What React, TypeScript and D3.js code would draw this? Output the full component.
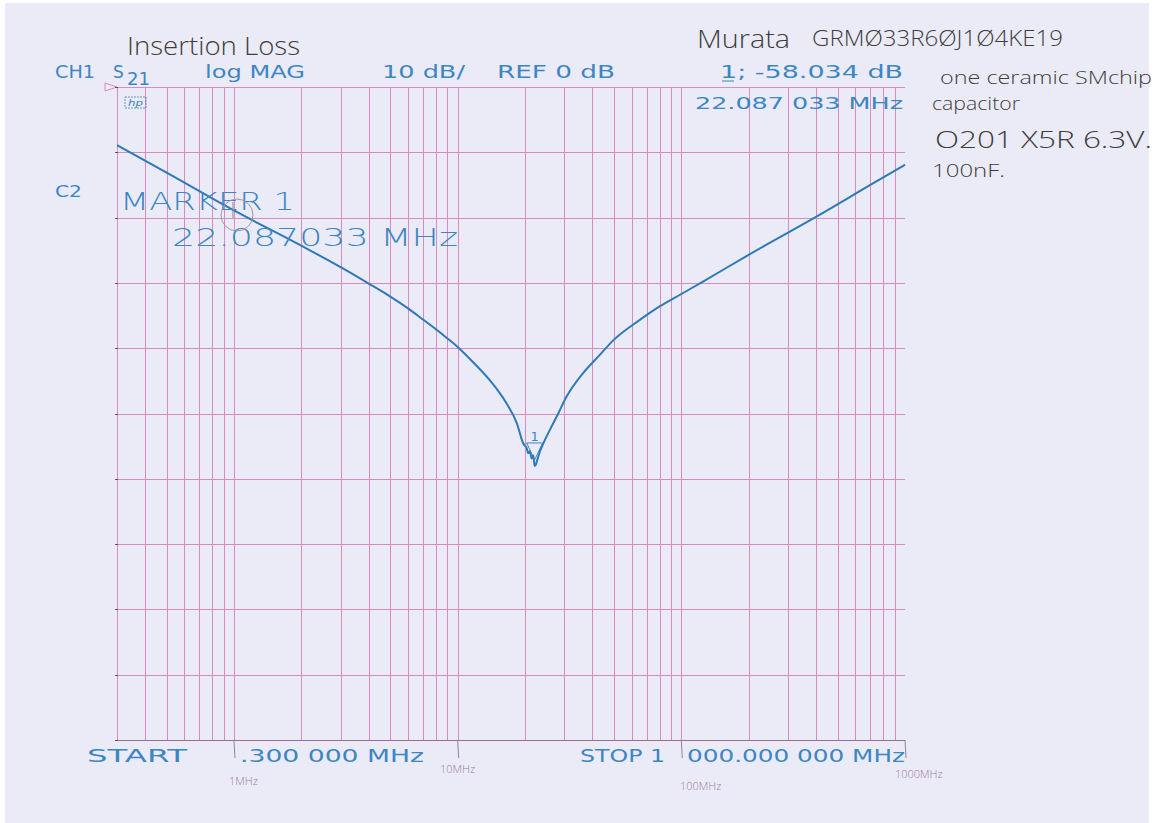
import React from 'react';
import * as d3 from 'd3';

// trace: frequency (MHz) and S21 (dB)
const freqMHz = [0.3, 0.5, 1, 2, 3, 4, 5, 6, 7, 8, 9, 10, 12, 14, 16.5, 18.4, 19.65, 20.35, 20.7, 21.06, 21.42, 21.78, 22.087, 22.33, 22.7, 23.33, 24.14, 25, 26.3, 27.7, 30.7, 36.4, 43, 49.6, 65, 80, 100, 125, 200, 400, 700, 1000];
const s21dB = [-8.9, -13.1, -18.9, -24.3, -27.6, -30.1, -32.1, -33.9, -35.6, -37.1, -38.5, -39.8, -42.5, -45.0, -48.4, -51.5, -54.6, -55.3, -56.1, -55.8, -56.9, -56.4, -58.03, -57.9, -57.1, -55.8, -54.6, -53.5, -52.0, -50.5, -47.4, -43.8, -41.1, -38.8, -35.7, -33.6, -31.7, -29.8, -25.7, -19.9, -15.0, -11.9];

const decades = [0.1, 1, 10, 100];
const multiples = [1, 2, 3, 4, 5, 6, 7, 8, 9];
const dbTicks = [0, -10, -20, -30, -40, -50, -60, -70, -80, -90, -100];
const penMarks = [1, 10, 100, 1000];
const penLabels = ['1MHz', '10MHz', '100MHz', '1000MHz'];

const markerF = 22.087;
const markerDb = -58.034;

const blue = '#3b86c3';
const pink = '#d88bbf';
const pen = '#3d3d3d';
const hpFont = '"DejaVu Sans", sans-serif';
const handFont = '"Open Sans", sans-serif';

export default function App() {
  const x = d3.scaleLog().domain([0.3, 1000]).range([117, 905]);
  const y = d3.scaleLinear().domain([0, -100]).range([87, 740]);
  const crisp = (v: number) => Math.round(v) + 0.5;

  const vLines: number[] = [];
  decades.forEach(d => multiples.forEach(m => {
    const v = d * m;
    if (v >= 0.3 - 1e-9 && v <= 1000 + 1e-9) vLines.push(v);
  }));

  const pts = freqMHz.map((f, i) => [f, s21dB[i]] as [number, number]);
  const line = d3.line<[number, number]>()
    .x(d => x(d[0]))
    .y(d => y(d[1]))
    .curve(d3.curveMonotoneX);

  const mx = x(markerF);
  const my = y(markerDb);

  const T = (props: any) => (
    <text fontFamily={hpFont} fill={blue} lengthAdjust="spacingAndGlyphs" {...props} />
  );
  const H = (props: any) => (
    <text fontFamily={handFont} fontWeight={300} fill={pen} lengthAdjust="spacingAndGlyphs" {...props} />
  );

  return (
    <svg width={1157} height={823} style={{ position: 'absolute', left: 0, top: 0 }}>
      <rect x={0} y={0} width={1157} height={823} fill="#ffffff" />
      <rect x={5} y={3} width={1144} height={820} fill="#ebebf7" />

      {/* grid */}
      <g stroke={pink} strokeWidth={1} fill="none">
        {vLines.map(v => (
          <line key={'v' + v} x1={crisp(x(v))} x2={crisp(x(v))} y1={y(0)} y2={y(-100)} />
        ))}
        {dbTicks.map(t => (
          <line key={'h' + t} x1={x(0.3)} x2={x(1000)} y1={crisp(y(t))} y2={crisp(y(t))} />
        ))}
        <path d={`M105,${y(0) - 4}L117,${y(0)}L105,${y(0) + 4}Z`} />
      </g>
      <line x1={x(0.3)} x2={x(1000)} y1={crisp(y(-100))} y2={crisp(y(-100))} stroke="#9a6f90" strokeWidth={1} />
      <g stroke="#6a4a66" strokeWidth={1}>
        {dbTicks.map(t => (
          <line key={'k' + t} x1={x(0.3) - 2} x2={x(0.3) + 1} y1={crisp(y(t))} y2={crisp(y(t))} />
        ))}
      </g>

      {/* trace */}
      <path d={line(pts) || ''} fill="none" stroke="#2d7ab6" strokeWidth={2} strokeLinejoin="round" />

      {/* marker */}
      <path d={`M${mx - 8},${my - 23}L${mx + 8},${my - 23}L${mx},${my - 6}Z`} fill="none" stroke={blue} strokeWidth={1} />
      <T x={mx} y={my - 25} fontSize={13} textAnchor="middle">1</T>

      {/* instrument annotations */}
      <T x={55} y={78} fontSize={17} textLength={40}>CH1</T>
      <T x={113} y={78} fontSize={17}>S</T>
      <T x={127} y={85} fontSize={17} textLength={23}>21</T>
      <T x={205} y={78} fontSize={17} textLength={100}>log MAG</T>
      <T x={382} y={78} fontSize={17} textLength={83}>10 dB/</T>
      <T x={497} y={78} fontSize={17} textLength={118}>REF 0 dB</T>
      <T x={720} y={78} fontSize={17} textLength={183}>1; -58.034 dB</T>
      <line x1={722} x2={734} y1={81} y2={81} stroke={blue} strokeWidth={1} />
      <T x={695} y={109} fontSize={16} textLength={208}>22.087 033 MHz</T>
      <rect x={125} y={97} width={21} height={11} fill="none" stroke={blue} strokeWidth={0.8} strokeDasharray="2 1" />
      <T x={128} y={106} fontSize={9} fontStyle="italic" textLength={15}>hp</T>
      <T x={55} y={197} fontSize={16} textLength={27}>C2</T>
      <T x={120} y={210} fontSize={24} textLength={175} fontWeight={300}>MARKER 1</T>
      <T x={172} y={246} fontSize={24} textLength={286} fontWeight={300}>22.087033 MHz</T>
      <T x={87} y={762} fontSize={17} textLength={100}>START</T>
      <T x={240} y={762} fontSize={17} textLength={184}>.300 000 MHz</T>
      <T x={580} y={762} fontSize={17} textLength={85}>STOP 1</T>
      <T x={687} y={762} fontSize={17} textLength={218}>000.000 000 MHz</T>

      {/* pen marks */}
      <g stroke="#8f8596" strokeWidth={1}>
        {penMarks.map(v => (
          <line key={'p' + v} x1={x(v)} x2={x(v) + 1} y1={y(-100)} y2={y(-100) + 18} />
        ))}
        <line x1={x(1) - 1} x2={x(1) - 1} y1={202} y2={218} />
      </g>
      <circle cx={237} cy={215} r={16} fill="none" stroke="#a596a6" strokeWidth={1} />
      {penLabels.map((l, i) => (
        <text key={l} x={[229, 440, 680, 895][i]} y={[785, 773, 790, 778][i]}
          fontFamily={handFont} fontWeight={300} fontSize={11} fill="#9a7aa0">{l}</text>
      ))}

      {/* handwriting */}
      <H x={127} y={55} fontSize={26} textLength={173}>Insertion Loss</H>
      <H x={697} y={48} fontSize={26} textLength={93}>Murata</H>
      <H x={812} y={46} fontSize={22} textLength={251}>GRMØ33R6ØJ1Ø4KE19</H>
      <H x={940} y={84} fontSize={18} textLength={212}>one ceramic SMchip</H>
      <H x={932} y={110} fontSize={18} textLength={88}>capacitor</H>
      <H x={935} y={148} fontSize={23} textLength={217}>O201 X5R 6.3V.</H>
      <H x={932} y={177} fontSize={19} textLength={73}>100nF.</H>
    </svg>
  );
}
